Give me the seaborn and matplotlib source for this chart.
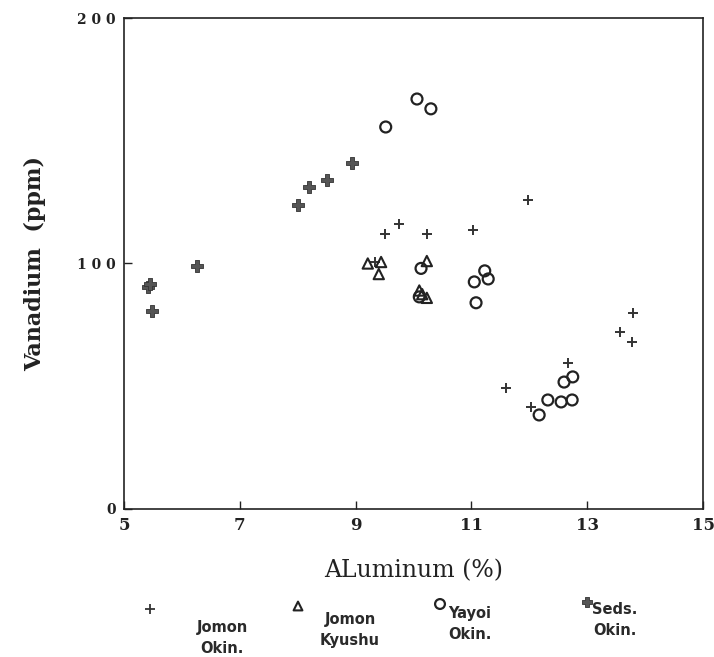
import matplotlib
matplotlib.use("Agg")
import matplotlib.pyplot as plt
import seaborn as sns
import pandas as pd

# ---- data ----
jomon_okin_al = [9.34, 9.51, 9.75, 10.23, 11.03, 11.98, 13.79, 13.57, 13.77, 12.67, 11.60, 12.03]
jomon_okin_v  = [100.6, 112, 116, 112, 113.6, 126, 80, 72, 68, 59.5, 49.3, 41.5]

jomon_kyushu_al = [9.21, 9.44, 9.40, 10.23, 10.10, 10.23, 10.15]
jomon_kyushu_v  = [100, 100.6, 95.7, 101, 89, 86, 87.5]

yayoi_okin_al = [10.06, 10.30, 9.52, 10.13, 10.10, 11.05, 11.23, 11.29, 11.08,
                 12.75, 12.60, 12.74, 12.55, 12.32, 12.17]
yayoi_okin_v  = [167, 163, 155.6, 98, 86.4, 92.5, 97, 93.7, 84,
                 53.8, 51.7, 44.4, 43.6, 44.4, 38.3]

seds_okin_al = [5.42, 5.45, 5.48, 6.26, 8.00, 8.20, 8.50, 8.94]
seds_okin_v  = [90.4, 91.5, 80.6, 99, 124, 131, 134, 141]

x_ticks = [5, 7, 9, 11, 13, 15]
y_ticks = [0, 100, 200]
legend_labels = ["Jomon\nOkin.", "Jomon\nKyushu", "Yayoi\nOkin.", "Seds.\nOkin."]

sns.set_theme(style="white")
plt.rcParams['font.family'] = ['DejaVu Sans']

fig = plt.figure(figsize=(7.14, 6.57), dpi=100)
ax = fig.add_axes([0.1737, 0.2253, 0.8109, 0.7473])

df_jo = pd.DataFrame({"al": jomon_okin_al, "v": jomon_okin_v})
df_jk = pd.DataFrame({"al": jomon_kyushu_al, "v": jomon_kyushu_v})
df_yo = pd.DataFrame({"al": yayoi_okin_al, "v": yayoi_okin_v})
df_so = pd.DataFrame({"al": seds_okin_al, "v": seds_okin_v})

sns.scatterplot(data=df_jo, x="al", y="v", ax=ax, marker="+", s=55,
                color="#333333", linewidth=1.4)
sns.scatterplot(data=df_jk, x="al", y="v", ax=ax, marker="^", s=55,
                facecolor="none", edgecolor="#222222", linewidth=1.5)
sns.scatterplot(data=df_yo, x="al", y="v", ax=ax, marker="o", s=62,
                facecolor="none", edgecolor="#222222", linewidth=1.6)
sns.scatterplot(data=df_so, x="al", y="v", ax=ax, marker="P", s=65,
                color="#555555", edgecolor="#333333", linewidth=0.6)

ax.set_xlim(5, 15)
ax.set_ylim(0, 200)
ax.set_xticks(x_ticks)
ax.set_yticks(y_ticks)
ax.set_xticklabels([str(t) for t in x_ticks], family="DejaVu Serif",
                   fontweight="bold", fontsize=12)
ax.set_yticklabels([" ".join(str(t)) for t in y_ticks], family="DejaVu Serif",
                   fontweight="bold", fontsize=10)
ax.tick_params(axis="both", direction="in", length=6, width=1, colors="#222222",
               bottom=True, left=True, pad=6)
for sp in ax.spines.values():
    sp.set_color("#222222")
    sp.set_linewidth(1.2)

ax.set_xlabel("ALuminum (%)", family="DejaVu Serif", fontsize=17,
              labelpad=18, color="#222222")
ax.set_ylabel("Vanadium  (ppm)", family="DejaVu Serif", fontsize=16,
              fontweight="bold", labelpad=22, color="#222222")

# ---- custom legend along the bottom ----
lax = fig.add_axes([0, 0, 1, 0.14])
lax.set_xlim(0, 714)
lax.set_ylim(92, 0)
lax.axis("off")
leg_markers = [("+", 55, "#333333", "#333333", 1.3),
               ("^", 40, "none", "#222222", 1.5),
               ("o", 50, "none", "#222222", 1.6),
               ("P", 50, "#555555", "#333333", 0.6)]
marker_x = [150, 298, 440, 587]
marker_y = [44, 41, 39, 37]
label_x = [222, 350, 470, 615]
label_y = [73, 65, 59, 55]
for (m, s, fc, ec, lw), mx, my, lx, ly, lab in zip(leg_markers, marker_x, marker_y,
                                                    label_x, label_y, legend_labels):
    if m == "+":
        lax.scatter([mx], [my], marker=m, s=s, c=ec, linewidth=lw)
    else:
        lax.scatter([mx], [my], marker=m, s=s, facecolor=fc, edgecolor=ec, linewidth=lw)
    lax.text(lx, ly, lab, ha="center", va="center", fontsize=10.5, fontweight="heavy",
             color="#2a2a2a", linespacing=1.45)

fig.savefig("out.png", dpi=100)
